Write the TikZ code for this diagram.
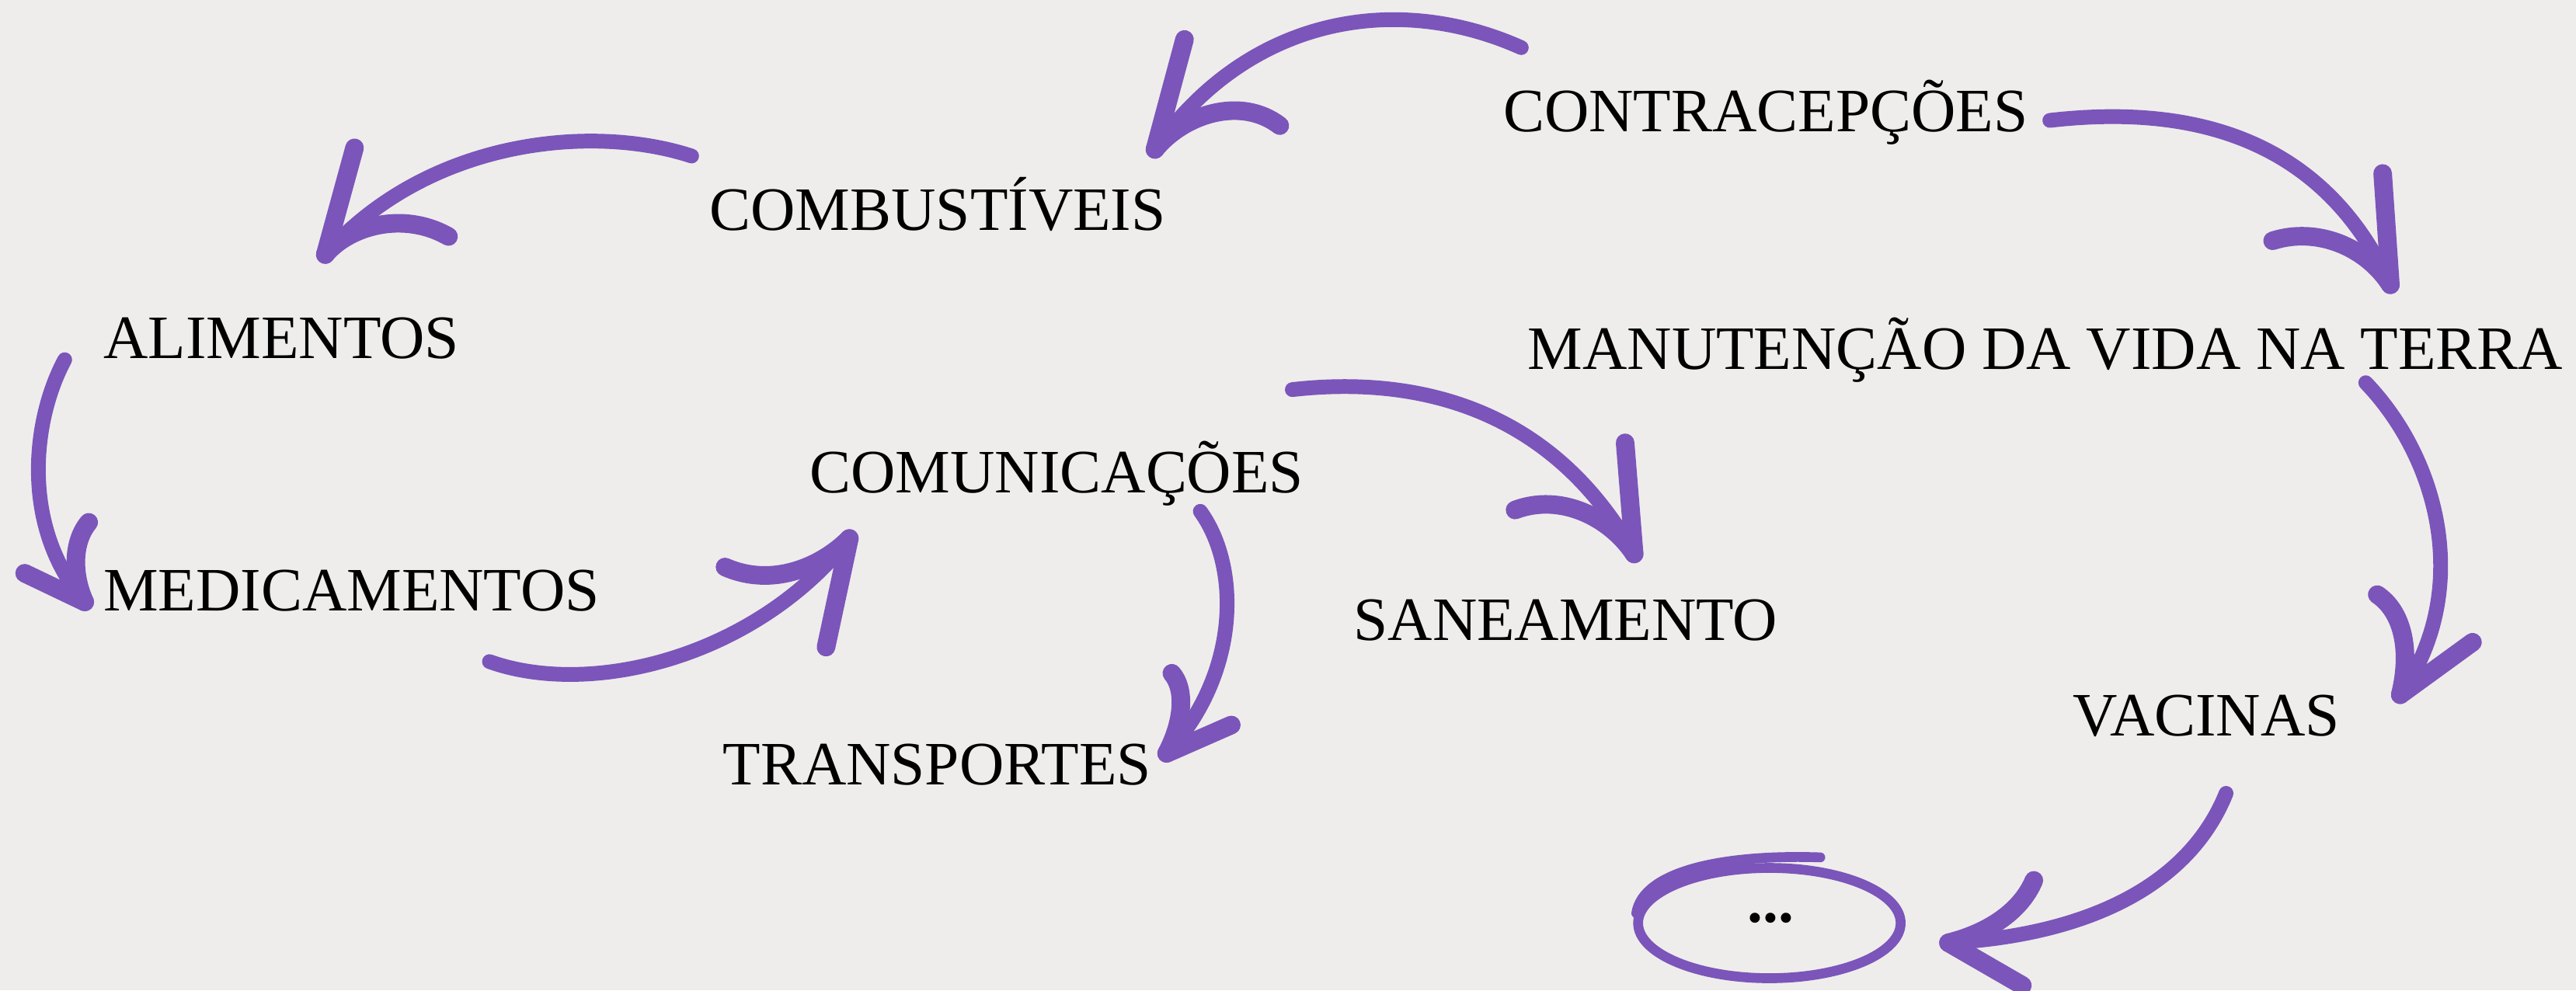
\documentclass[tikz,border=0pt]{standalone}
\usepackage{fontspec}
\setmainfont{Liberation Serif}
\definecolor{paper}{HTML}{EEEDEB}
\definecolor{inkp}{HTML}{7B55BA}
\begin{document}
\begin{tikzpicture}[x=0.021148cm,y=-0.021148cm,
  lbl/.style={anchor=base west,inner sep=0pt,outer sep=0pt,font=\fontsize{22.6pt}{27pt}\selectfont,text=black},
  shaft/.style={draw=inkp,line width=5.4pt,line cap=round,line join=round},
  barb/.style={draw=inkp,line width=6.8pt,line cap=round,line join=round},
  ring/.style={draw=inkp,line width=3.6pt,line cap=round}]
\fill[paper] (0,0) rectangle (1568,603);
\useasboundingbox (0,0) rectangle (1568,603);

% labels
\node[lbl] (contra) at (915,80) {CONTRACEPÇÕES};
\node[lbl] (comb) at (432,140) {COMBUSTÍVEIS};
\node[lbl] (alim) at (63,218) {ALIMENTOS};
\node[lbl] (manut) at (930,225) {MANUTENÇÃO DA VIDA NA TERRA};
\node[lbl] (comun) at (493,300) {COMUNICAÇÕES};
\node[lbl] (medic) at (63,372) {MEDICAMENTOS};
\node[lbl] (sanea) at (824,390) {SANEAMENTO};
\node[lbl] (transp) at (440,478) {TRANSPORTES};
\node[lbl] (vacin) at (1262,448) {VACINAS};
\node[anchor=base,inner sep=0pt,font=\fontsize{22.6pt}{27pt}\selectfont\bfseries] (etc) at (1078,561.5) {...};

% ring around the ellipsis
\draw[ring] (1077,562) ellipse [x radius=1.69cm, y radius=0.71cm];
\draw[ring] (996,556) .. controls (1000,530) and (1050,520) .. (1108,522);

% arrow endpoints
\coordinate (a1s) at (926,29);    \coordinate (a1t) at (703,91);
\coordinate (a2s) at (421,95);    \coordinate (a2t) at (198,155);
\coordinate (a3s) at (39.4,219);  \coordinate (a3t) at (51.6,366.5);
\coordinate (a4s) at (297.9,402.8); \coordinate (a4t) at (517,327.8);
\coordinate (a5s) at (730.6,311.3); \coordinate (a5t) at (710.1,458.7);
\coordinate (a6s) at (786.6,237.2); \coordinate (a6t) at (994.7,337.3);
\coordinate (a7s) at (1247.7,73.3); \coordinate (a7t) at (1455,173.4);
\coordinate (a8s) at (1440,233);  \coordinate (a8t) at (1461,423);
\coordinate (a9s) at (1355,483);  \coordinate (a9t) at (1186,574);

% CONTRACEPCOES -> COMBUSTIVEIS
\draw[shaft] (a1s) .. controls (850,-5) and (760,10) .. (a1t);
\draw[barb] (a1t) -- (721,24);
\draw[barb] (a1t) .. controls (720,70) and (755,58) .. (779,76.5);

% COMBUSTIVEIS -> ALIMENTOS
\draw[shaft] (a2s) .. controls (360,75) and (260,85) .. (a2t);
\draw[barb] (a2t) -- (215.8,90);
\draw[barb] (a2t) .. controls (212,138) and (245,128) .. (273,144);

% ALIMENTOS -> MEDICAMENTOS
\draw[shaft] (a3s) .. controls (20,255) and (12,320) .. (a3t);
\draw[barb] (a3t) -- (15,349);
\draw[barb] (a3t) .. controls (44,350) and (44,330) .. (54,318);

% MEDICAMENTOS -> COMUNICACOES
\draw[shaft] (a4s) .. controls (360,425) and (460,400) .. (a4t);
\draw[barb] (a4t) .. controls (500,345) and (470,358) .. (441.3,345.2);
\draw[barb] (a4t) -- (502.8,394);

% COMUNICACOES -> TRANSPORTES
\draw[shaft] (a5s) .. controls (755,345) and (755,410) .. (a5t);
\draw[barb] (a5t) .. controls (720,440) and (722,420) .. (713.3,409.9);
\draw[barb] (a5t) -- (749.5,441.4);

% COMUNICACOES -> SANEAMENTO
\draw[shaft] (a6s) .. controls (850,230) and (940,240) .. (a6t);
\draw[barb] (a6t) -- (989.2,269.6);
\draw[barb] (a6t) .. controls (980,315) and (950,300) .. (922.2,310.5);

% CONTRACEPCOES -> MANUTENCAO
\draw[shaft] (a7s) .. controls (1320,65) and (1410,75) .. (a7t);
\draw[barb] (a7t) -- (1450.3,105.6);
\draw[barb] (a7t) .. controls (1440,150) and (1410,138) .. (1383.3,146.6);

% MANUTENCAO -> VACINAS
\draw[shaft] (a8s) .. controls (1485,280) and (1505,360) .. (a8t);
\draw[barb] (a8t) .. controls (1468,395) and (1462,372) .. (1447,362);
\draw[barb] (a8t) -- (1505,391);

% VACINAS -> ...
\draw[shaft] (a9s) .. controls (1330,545) and (1260,570) .. (a9t);
\draw[barb] (a9t) .. controls (1210,568) and (1230,555) .. (1238,536);
\draw[barb] (a9t) -- (1231,600);
\end{tikzpicture}
\end{document}
